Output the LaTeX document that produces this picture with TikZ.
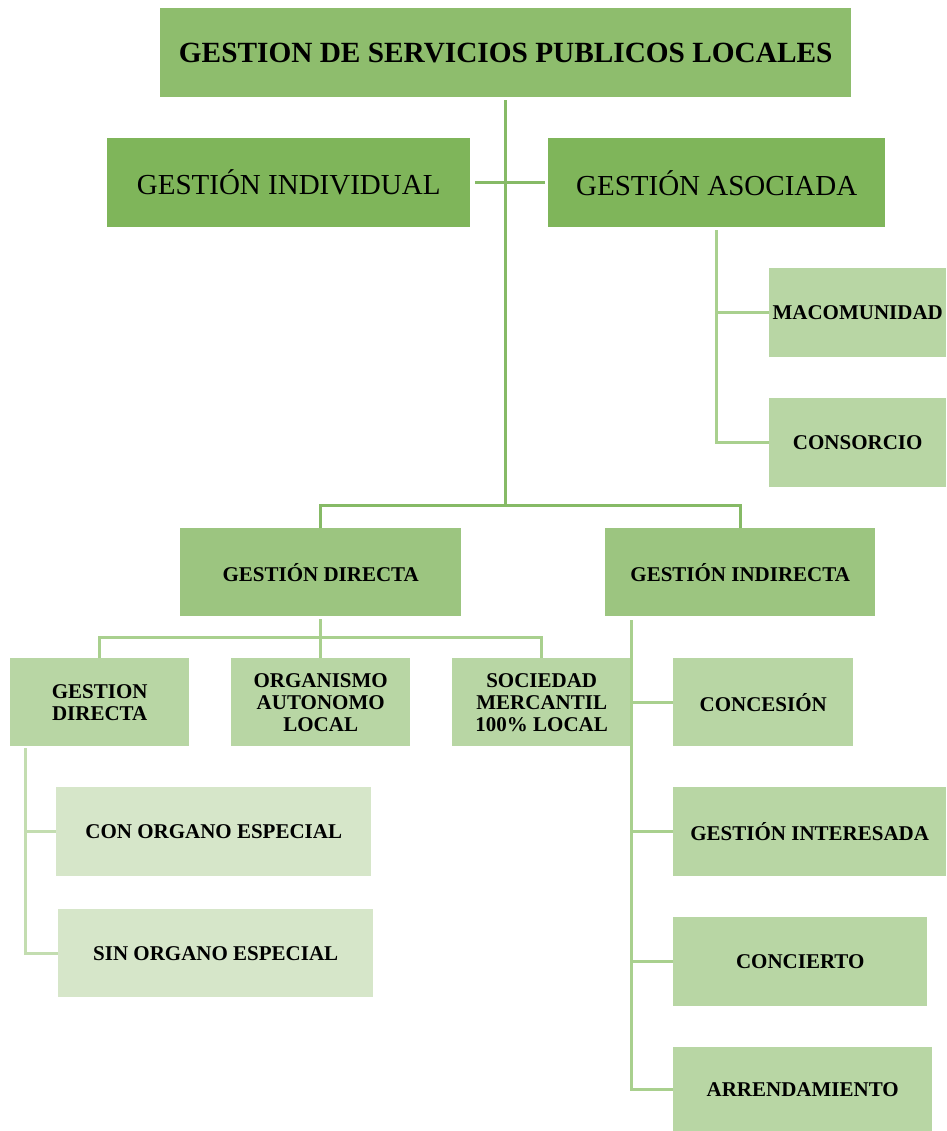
\documentclass[tikz,border=0pt]{standalone}
\usepackage{fontspec}
\setmainfont{Liberation Serif}
\definecolor{cTop}{HTML}{8EBD6D}
\definecolor{cMid}{HTML}{7FB55A}
\definecolor{cDir}{HTML}{9CC580}
\definecolor{cLight}{HTML}{B8D6A4}
\definecolor{cPale}{HTML}{D6E6C9}
\definecolor{lMain}{HTML}{86BA66}
\definecolor{lSub}{HTML}{A9D08E}
\definecolor{lPale}{HTML}{C3DDB0}
\tikzset{
  box/.style={rectangle, anchor=north west, inner sep=0pt, align=center, text=black},
  small/.style={box, font=\fontsize{21}{22}\selectfont\bfseries},
  mainline/.style={draw=lMain, line width=3pt},
  subline/.style={draw=lSub, line width=3pt},
  paleline/.style={draw=lPale, line width=3pt}
}
\begin{document}
\begin{tikzpicture}[x=1pt,y=-1pt]
\useasboundingbox (0,0) rectangle (946,1131);
\fill[white] (0,0) rectangle (946,1131);
% nodes
\node[box, fill=cTop, minimum width=691pt, minimum height=89pt, font=\fontsize{29.3}{31}\selectfont\bfseries] (top) at (160,8) {GESTION DE SERVICIOS PUBLICOS LOCALES};
\node[box, fill=cMid, minimum width=363pt, minimum height=89pt, font=\fontsize{29}{31}\selectfont] (ind) at (107,138) {GESTIÓN INDIVIDUAL};
\node[box, fill=cMid, minimum width=337pt, minimum height=89pt, font=\fontsize{29}{31}\selectfont] (aso) at (548,138) {GESTIÓN ASOCIADA};
\node[small, fill=cLight, minimum width=177pt, minimum height=89pt] (mac) at (769,268) {MACOMUNIDAD};
\node[small, fill=cLight, minimum width=177pt, minimum height=89pt] (cons) at (769,398) {CONSORCIO};
\node[small, fill=cDir, minimum width=281pt, minimum height=88pt] (dir) at (180,528) {GESTIÓN DIRECTA};
\node[small, fill=cDir, minimum width=270pt, minimum height=88pt] (indir) at (605,528) {GESTIÓN INDIRECTA};
\node[small, fill=cLight, minimum width=179pt, minimum height=88pt] (gd) at (10,658) {GESTION\\DIRECTA};
\node[small, fill=cLight, minimum width=179pt, minimum height=88pt] (org) at (231,658) {ORGANISMO\\AUTONOMO\\LOCAL};
\node[small, fill=cLight, minimum width=179pt, minimum height=88pt] (soc) at (452,658) {SOCIEDAD\\MERCANTIL\\100\% LOCAL};
\node[small, fill=cLight, minimum width=180pt, minimum height=88pt] (conc) at (673,658) {CONCESIÓN};
\node[small, fill=cPale, minimum width=315pt, minimum height=89pt] (con) at (56,787) {CON ORGANO ESPECIAL};
\node[small, fill=cPale, minimum width=315pt, minimum height=88pt] (sin) at (58,909) {SIN ORGANO ESPECIAL};
\node[small, fill=cLight, minimum width=273pt, minimum height=89pt] (int) at (673,787) {GESTIÓN INTERESADA};
\node[small, fill=cLight, minimum width=254pt, minimum height=89pt] (conci) at (673,917) {CONCIERTO};
\node[small, fill=cLight, minimum width=259pt, minimum height=84pt] (arr) at (673,1047) {ARRENDAMIENTO};
% coordinates
\coordinate (y505) at (0,505);
\coordinate (y637) at (0,637);
\coordinate (j1) at (top.south |- y505);
\coordinate (jd) at (dir.south |- y637);
\coordinate (ia) at (631,620);
\coordinate (ga) at (25,748);
% connectors
\draw[mainline] ([yshift=-3pt]top.south) -- (j1);
\draw[mainline, shorten <=5pt, shorten >=3pt] (ind.east) -- (aso.west);
\draw[mainline] (dir.north) -- (dir.north |- j1) -- (indir.north |- j1) -- (indir.north);
\draw[subline] ([yshift=-3pt]aso.south) |- (mac.west);
\draw[subline] ([yshift=-3pt]aso.south) |- (cons.west);
\draw[subline] ([yshift=-3pt]dir.south) -- (jd);
\draw[subline] (gd.north) |- (jd) -| (soc.north);
\draw[subline] (jd) -- (org.north);
\draw[subline] (ia) |- (arr.west);
\draw[subline] (ia |- conc.west) -- (conc.west);
\draw[subline] (ia |- int.west) -- (int.west);
\draw[subline] (ia |- conci.west) -- (conci.west);
\draw[paleline] (ga) |- (con.west);
\draw[paleline] (ga) |- (sin.west);
\end{tikzpicture}
\end{document}
